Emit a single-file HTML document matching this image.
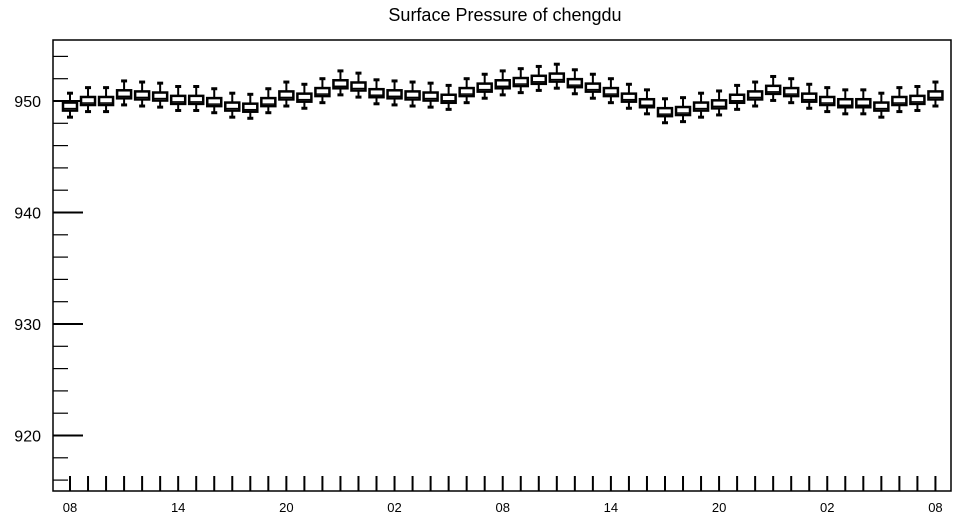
<!DOCTYPE html>
<html><head><meta charset="utf-8"><style>
body{margin:0;background:#fff;}
svg text{font-family:"Liberation Sans",sans-serif;}
</style></head><body>
<svg id="chart" width="958" height="520" xmlns="http://www.w3.org/2000/svg">
<text x="505" y="21" text-anchor="middle" font-size="18">Surface Pressure of chengdu</text>
<rect x="53" y="40" width="898" height="451" fill="none" stroke="#000" stroke-width="1.5"/>
<g id="axes"></g>
<g id="boxes"></g>
</svg>
<script>
const medians=[949.5,950.0,950.0,950.6,950.5,950.4,950.1,950.1,949.9,949.5,949.4,949.9,950.5,950.3,950.8,951.5,951.3,950.7,950.6,950.5,950.4,950.2,950.8,951.2,951.5,951.7,951.9,952.1,951.6,951.2,950.8,950.3,949.8,949.0,949.1,949.5,949.7,950.2,950.5,951.0,950.8,950.3,950.0,949.8,949.8,949.5,950.0,950.1,950.5];
const boxHalf=[0.36];
const whiskerUp=[1.2];
const whiskerDown=[0.95];
const xTickLabels=["08","14","20","02","08","14","20","02","08"];
const yTickLabels=[920,930,940,950];
const NS="http://www.w3.org/2000/svg";
const y=v=>101+(950-v)*11.15;
const x=i=>70+i*18.03;
function mk(tag,attrs,parent){const e=document.createElementNS(NS,tag);for(const k in attrs)e.setAttribute(k,attrs[k]);parent.appendChild(e);return e;}
const ax=document.getElementById('axes'),bx=document.getElementById('boxes');
// y ticks
for(let v=916;v<=955;v+=2){
  const major=v%10===0;
  const t=mk('line',{x1:53,x2:major?83:68,y1:y(v),y2:y(v),stroke:'#000','stroke-width':major?2:1.2},ax);
  
  
}
yTickLabels.forEach(v=>{
  const t=mk('text',{x:41,y:y(v)+6,'text-anchor':'end','font-size':16},ax);
  t.textContent=v;
  
  
});
// x ticks
medians.forEach((m,i)=>{
  const t=mk('line',{x1:x(i),x2:x(i),y1:476,y2:491,stroke:'#000','stroke-width':2},ax);
  
  
});
xTickLabels.forEach((s,j)=>{
  const t=mk('text',{x:x(j*6),y:512,'text-anchor':'middle','font-size':13},ax);
  t.textContent=s;
  
  
});
// boxes
medians.forEach((m,i)=>{
  const g=mk('g',{},bx);
  
  
  const cx=x(i),h=boxHalf[0];
  mk('line',{x1:cx,x2:cx,y1:y(m+whiskerUp[0]),y2:y(m-whiskerDown[0]),stroke:'#000','stroke-width':2},g);
  mk('line',{x1:cx-3,x2:cx+3,y1:y(m+whiskerUp[0]),y2:y(m+whiskerUp[0]),stroke:'#000','stroke-width':3},g);
  mk('line',{x1:cx-3,x2:cx+3,y1:y(m-whiskerDown[0]),y2:y(m-whiskerDown[0]),stroke:'#000','stroke-width':3},g);
  mk('rect',{x:cx-7,y:y(m+h),width:14,height:y(m-h)-y(m+h),fill:'#fff',stroke:'#000','stroke-width':2.5},g);
  mk('line',{x1:cx-7,x2:cx+7,y1:y(m-h*0.5),y2:y(m-h*0.5),stroke:'#000','stroke-width':1.5},g);
});
</script>
</body></html>
